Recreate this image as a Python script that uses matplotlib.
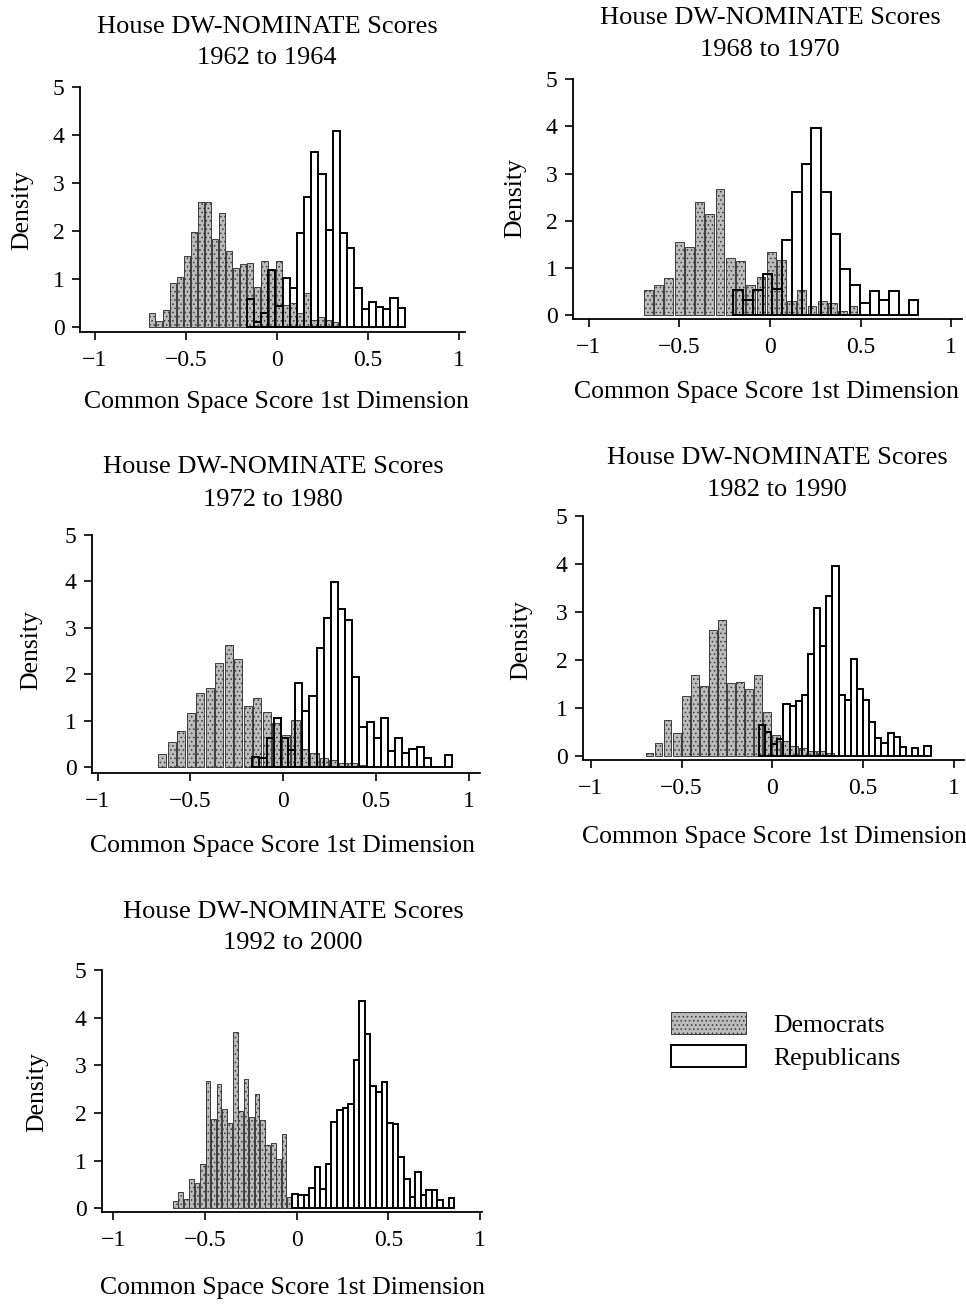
import matplotlib
matplotlib.use('Agg')
import matplotlib.pyplot as plt
import numpy as np
from matplotlib.patches import Patch

plt.rcParams['font.family'] = ['Liberation Serif', 'DejaVu Serif']
plt.rcParams['hatch.linewidth'] = 0.6

W, H = 966, 1306

# ---------------- data ----------------
title_line1 = 'House DW-NOMINATE Scores'
periods = ['1962 to 1964', '1968 to 1970', '1972 to 1980', '1982 to 1990', '1992 to 2000']
x_label = 'Common Space Score 1st Dimension'
y_label = 'Density'
legend_labels = ['Democrats', 'Republicans']
x_ticks = [-1, -0.5, 0, 0.5, 1]
x_tick_labels = ['\u22121', '\u22120.5', '0', '0.5', '1']
y_ticks = [0, 1, 2, 3, 4, 5]

# histogram bins: (first left edge, bin width)
dem_bins = [(-0.707, 0.0387), (-0.699, 0.0564), (-0.678, 0.0513), (-0.702, 0.0498), (-0.675, 0.0296)]
rep_bins = [(-0.167, 0.0395), (-0.202, 0.0537), (-0.167, 0.0385), (-0.074, 0.0338), (-0.023, 0.0304)]

dem_1962 = [0.29, 0.12, 0.35, 0.92, 1.04, 1.47, 1.98, 2.61, 2.61, 1.84, 2.38, 1.58, 1.23, 1.31,
            1.33, 0.83, 1.37, 1.19, 1.37, 0.45, 0.50, 0.30, 0.70, 0.15, 0.20, 0.15, 0.10]
rep_1962 = [0.59, 0.10, 0.29, 1.19, 0.43, 1.02, 0.81, 1.96, 2.71, 3.65, 3.19, 2.03, 4.08, 1.96,
            1.65, 0.81, 0.38, 0.53, 0.42, 0.38, 0.60, 0.40]

dem_1968 = [0.54, 0.65, 0.79, 1.56, 1.44, 2.39, 2.15, 2.67, 1.21, 1.16, 0.65, 0.82, 1.35, 1.18,
            0.30, 0.54, 0.20, 0.30, 0.26, 0.10, 0.20]
rep_1968 = [0.54, 0.33, 0.54, 0.87, 0.56, 1.60, 2.60, 3.20, 3.97, 2.60, 1.73, 0.99, 0.65, 0.26,
            0.51, 0.32, 0.52, 0.00, 0.32]

dem_1972 = [0.28, 0.55, 0.79, 1.17, 1.59, 1.71, 2.24, 2.64, 2.34, 1.31, 1.49, 1.18, 0.96, 0.70,
            1.01, 0.40, 0.30, 0.20, 0.15, 0.10, 0.10, 0.05]
rep_1972 = [0.23, 0.20, 0.62, 1.06, 0.62, 0.37, 1.81, 1.21, 1.53, 2.56, 3.21, 3.99, 3.41, 3.18,
            1.94, 0.86, 0.98, 0.62, 1.06, 0.35, 0.64, 0.31, 0.39, 0.44, 0.21, 0.00, 0.00, 0.26]

dem_1982 = [0.05, 0.27, 0.74, 0.48, 1.25, 1.69, 1.45, 2.63, 2.84, 1.51, 1.53, 1.39, 1.69, 0.92,
            0.43, 0.30, 0.20, 0.15, 0.10, 0.10, 0.05]
rep_1982 = [0.65, 0.50, 0.24, 0.34, 1.08, 1.04, 1.15, 1.26, 2.12, 3.09, 2.28, 3.33, 3.95, 1.26,
            1.16, 2.01, 1.40, 1.16, 0.71, 0.36, 0.26, 0.47, 0.38, 0.19, 0.00, 0.17, 0.00, 0.21]

dem_1992 = [0.16, 0.34, 0.19, 0.62, 0.54, 0.93, 2.67, 1.87, 2.60, 2.08, 1.78, 3.69, 2.04, 2.71,
            1.92, 2.39, 1.85, 1.33, 1.36, 1.03, 1.56, 0.23]
rep_1992 = [0.31, 0.28, 0.27, 0.42, 0.87, 0.40, 0.92, 1.82, 2.06, 2.11, 2.19, 3.11, 4.34, 3.66,
            2.57, 2.43, 2.66, 1.78, 1.77, 1.08, 0.62, 0.24, 0.76, 0.28, 0.38, 0.38, 0.17, 0.00, 0.22]

dem_all = [dem_1962, dem_1968, dem_1972, dem_1982, dem_1992]
rep_all = [rep_1962, rep_1968, rep_1972, rep_1982, rep_1992]

# ---------------- layout (pixels) ----------------
# axes box: left, right, top, bottom ; xlim ; ylim
axes_px = [
    (80, 465, 87, 332, (-1.082, 1.033), (-0.104, 5.0)),
    (573, 962, 79, 319, (-1.087, 1.059), (-0.076, 5.0)),
    (92, 480, 535, 773, (-1.03, 1.06), (-0.123, 5.0)),
    (583, 964, 516, 760, (-1.044, 1.057), (-0.09, 5.0)),
    (102, 482, 970, 1212, (-1.06, 1.01), (-0.078, 5.0)),
]
title_px = [(267, 27, 58), (770, 18, 50), (273, 467, 500), (777, 458, 490), (293, 912, 943)]
xlabel_px = [(276, 402), (767, 392), (283, 846), (775, 837), (292, 1288)]
ylabel_px = [(22, 210), (515, 198), (31, 650), (521, 640), (37, 1092)]

DEM_FACE = '#bcbcbc'
DEM_EDGE = '#3c3c3c'
DEM_FRAC = 0.86   # drawn fraction of each Democrat bin (thin white gaps)
FS_TITLE = 19
FS_TEXT = 18.5
FS_TICK = 17

fig = plt.figure(figsize=(W / 100, H / 100), dpi=100)


def fx(x):
    return x / W


def fy(y):
    return 1 - y / H


for i in range(5):
    l, r, t, b, xl, yl = axes_px[i]
    ax = fig.add_axes([fx(l), fy(b), (r - l) / W, (b - t) / H])
    ds, dw = dem_bins[i]
    rs, rw = rep_bins[i]
    dh = np.array(dem_all[i])
    rh = np.array(rep_all[i])
    dx = ds + np.arange(len(dh)) * dw + dw / 2
    rx = rs + np.arange(len(rh)) * rw
    ax.bar(dx, dh, width=dw * DEM_FRAC, align='center', facecolor=DEM_FACE, edgecolor=DEM_EDGE,
           hatch='....', linewidth=0.7, zorder=2)
    ax.bar(rx, rh, width=rw, align='edge', facecolor='none', edgecolor='black',
           linewidth=1.4, zorder=3)
    ax.set_xlim(*xl)
    ax.set_ylim(*yl)
    ax.set_xticks(x_ticks)
    ax.set_xticklabels(x_tick_labels)
    ax.set_yticks(y_ticks)
    ax.set_yticklabels([str(v) for v in y_ticks])
    for s in ['top', 'right']:
        ax.spines[s].set_visible(False)
    for s in ['left', 'bottom']:
        ax.spines[s].set_linewidth(1.3)
    ax.tick_params(direction='out', length=6, width=1.2, labelsize=FS_TICK, pad=5)
    ax.tick_params(axis='x', pad=7)
    ax.set_facecolor('none')

    cx, y1, y2 = title_px[i]
    fig.text(fx(cx), fy(y1), title_line1, ha='center', va='center', fontsize=FS_TITLE)
    fig.text(fx(cx), fy(y2), periods[i], ha='center', va='center', fontsize=FS_TITLE)
    xx, xy = xlabel_px[i]
    fig.text(fx(xx), fy(xy), x_label, ha='center', va='center', fontsize=FS_TEXT)
    yx, yy = ylabel_px[i]
    fig.text(fx(yx), fy(yy), y_label, ha='center', va='center', rotation=90, fontsize=FS_TEXT)

handles = [Patch(facecolor=DEM_FACE, edgecolor=DEM_EDGE, hatch='....', linewidth=0.7),
           Patch(facecolor='white', edgecolor='black', linewidth=1.4)]
fig.legend(handles, legend_labels, loc='upper left', bbox_to_anchor=(fx(671), fy(1012)),
           frameon=False, fontsize=FS_TEXT, handlelength=2.9, handleheight=0.95,
           handletextpad=1.1, labelspacing=0.3, borderpad=0, borderaxespad=0)

fig.savefig('out.png', dpi=100)
